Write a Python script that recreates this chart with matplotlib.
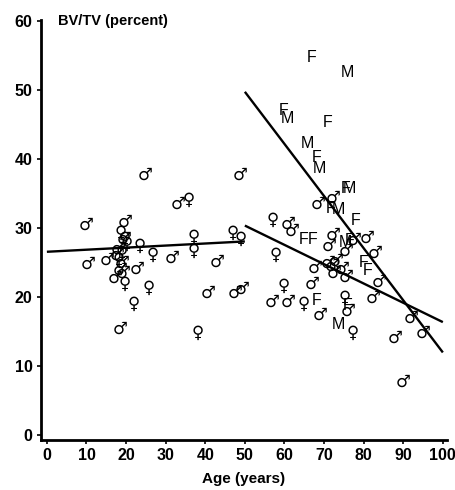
import matplotlib
matplotlib.use('Agg')
import matplotlib.pyplot as plt

# ages and BV/TV values, one pair of lists per symbol
male_age = [10, 10.4, 15.2, 19.7, 24.8, 33.2, 48.9, 22.8, 31.6, 43, 40.8, 47.6, 49.4,
            18.5, 17.2, 18, 19, 18.5, 19.5, 17.8, 19.2,
            68.6, 72.2, 61, 62, 72.4, 71.4, 77.5, 80.8, 83, 67.8, 71, 73, 74.5,
            72.5, 75.5, 83.8, 82.5, 67, 57, 61, 69, 76, 92, 95, 88, 90, 75.7, 72]
male_bv = [30.5, 24.8, 25.5, 30.9, 37.7, 33.6, 37.7, 24.2, 25.8, 25.1, 20.7, 20.6, 21.3,
           15.5, 22.8, 27, 25, 24, 28.5, 26.2, 23.6,
           33.5, 34.5, 30.7, 29.7, 29, 27.5, 28.3, 28.7, 26.4, 24.3, 25, 25.3, 24.2,
           23.5, 23, 22.2, 20, 22, 19.3, 19.3, 17.4, 18, 17.1, 14.8, 14.1, 7.7, 26.8, 24.6]

female_age = [18.5, 19.7, 23.5, 26.8, 37, 37, 46.8, 48.9, 19.7, 25.8, 21.8, 38, 35.7,
              19, 18, 20.2, 57, 57.7, 59.7, 64.8, 75.2, 77.2]
female_bv = [29.4, 28.5, 27.5, 26.1, 28.7, 26.8, 29.4, 28.5, 22, 21.3, 19.1, 14.9, 34.2,
             26.5, 25.5, 27.8, 31.2, 26.1, 21.7, 19.1, 19.9, 14.9]

f_age = [66.8, 59.7, 70.9, 68.1, 75.5, 71.6, 78, 64.8, 67.1, 80, 81, 68, 76, 76.5]
f_bv = [54.8, 47.1, 45.4, 40.3, 35.8, 32.9, 31.2, 28.4, 28.4, 25, 23.9, 19.6, 18.8, 28.3]

m_age = [75.9, 60.8, 65.8, 68.9, 76.5, 73.7, 75.4, 73.7]
m_bv = [52.6, 45.9, 42.3, 38.7, 35.8, 32.8, 28, 16]

# regression lines (start, end)
line1_age = [0, 50]
line1_bv = [26.6, 28.1]
line2_age = [50, 100]
line2_bv = [30.4, 16.4]
line3_age = [50, 100]
line3_bv = [49.8, 12.0]

plt.rcParams['font.family'] = ['Liberation Sans', 'DejaVu Sans']

fig = plt.figure(figsize=(4.55, 4.9), dpi=100)
ax = fig.add_axes([0.09, 0.102, 0.892, 0.857])

for xs, ys in [(line1_age, line1_bv), (line2_age, line2_bv), (line3_age, line3_bv)]:
    ax.plot(xs, ys, color='black', lw=1.7, solid_capstyle='butt')

# symbols are drawn as text glyphs
for a, v in zip(male_age, male_bv):
    ax.text(a, v, '\u2642', ha='center', va='center', fontsize=12,
            family=['DejaVu Sans'], color='black')
for a, v in zip(female_age, female_bv):
    ax.text(a, v, '\u2640', ha='center', va='center', fontsize=12,
            family=['DejaVu Sans'], color='black')
for a, v in zip(f_age, f_bv):
    ax.text(a, v, 'F', ha='center', va='center', fontsize=11.5, color='black')
for a, v in zip(m_age, m_bv):
    ax.text(a, v, 'M', ha='center', va='center', fontsize=11.5, color='black')

ax.set_xlim(-1.5, 101)
ax.set_ylim(-0.7, 60.2)
ax.set_xticks(range(0, 101, 10))
ax.set_yticks(range(0, 61, 10))
for lab in ax.get_xticklabels() + ax.get_yticklabels():
    lab.set_fontweight('bold')
    lab.set_fontsize(11.5)
ax.tick_params(length=3, width=1.2, pad=3)

for side in ['top', 'right']:
    ax.spines[side].set_visible(False)
for side in ['left', 'bottom']:
    ax.spines[side].set_linewidth(2)

ax.set_xlabel('Age (years)', fontsize=11, fontweight='bold', labelpad=6)
fig.text(58 / 455, 1 - 21 / 490, 'BV/TV (percent)', fontsize=10.5,
         fontweight='bold', va='center', ha='left')

fig.savefig('out.png', dpi=100)
